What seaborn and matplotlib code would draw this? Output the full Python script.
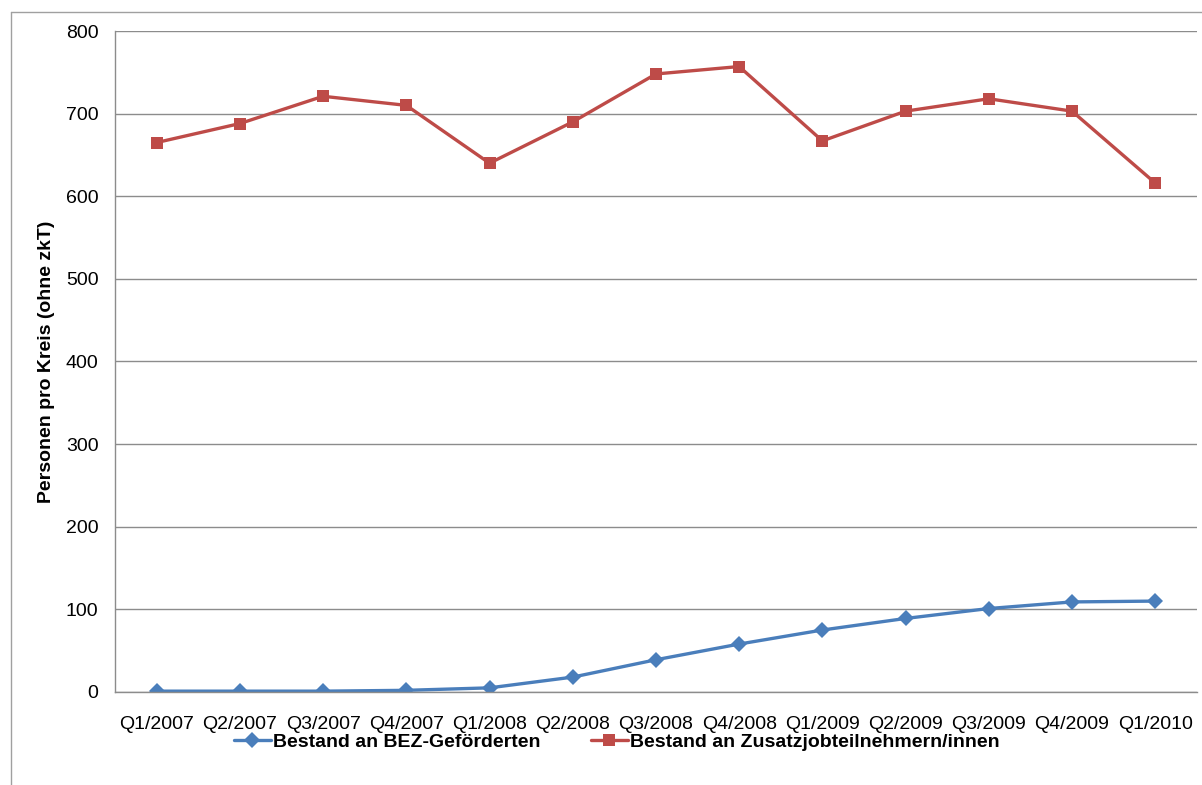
import matplotlib
matplotlib.use("Agg")
import matplotlib.pyplot as plt
import pandas as pd
import seaborn as sns
import numpy as np
from matplotlib.lines import Line2D

# data
quarters = ['Q1/2007', 'Q2/2007', 'Q3/2007', 'Q4/2007', 'Q1/2008', 'Q2/2008', 'Q3/2008',
            'Q4/2008', 'Q1/2009', 'Q2/2009', 'Q3/2009', 'Q4/2009', 'Q1/2010']
bez = [1, 1, 1, 2, 5, 18, 39, 58, 75, 89, 101, 109, 110]
zusatzjob = [665, 688, 721, 710, 640, 690, 748, 757, 667, 703, 718, 703, 616]
series_names = ['Bestand an BEZ-Geförderten', 'Bestand an Zusatzjobteilnehmern/innen']
y_ticks = [0, 100, 200, 300, 400, 500, 600, 700, 800]

df = pd.DataFrame({
    'pos': list(range(len(quarters))) * 2,
    'value': bez + zusatzjob,
    'series': [series_names[0]] * len(quarters) + [series_names[1]] * len(quarters),
})

sns.set_style('white')
plt.rcParams['font.family'] = ['Liberation Sans', 'DejaVu Sans']
plt.rcParams['text.color'] = 'black'

fig = plt.figure(figsize=(12.02, 7.85), dpi=100)
ax = fig.add_axes([0.0957, 0.1185, 0.9000, 0.842])

palette = {series_names[0]: '#4A7EBB', series_names[1]: '#BE4B48'}
markers = {series_names[0]: 'D', series_names[1]: 's'}
sns.lineplot(data=df, x='pos', y='value', hue='series', style='series',
             palette=palette, markers=markers, dashes=False, linewidth=2.4,
             markersize=8, markeredgewidth=0, ax=ax, legend=False)

ax.set_xlim(-0.5, len(quarters) - 0.5)
ax.set_ylim(0, 800)
ax.set_yticks(y_ticks)
ax.set_xticks(range(len(quarters)))
ax.set_xticklabels(quarters)
ax.set_xticks(np.arange(-0.5, len(quarters), 1.0), minor=True)
ax.tick_params(axis='x', which='major', length=0, pad=17, labelsize=14, labelcolor='black')
ax.tick_params(axis='x', which='minor', length=6, color='#8C8C8C', width=1, direction='out')
ax.tick_params(axis='y', length=6, color='#8C8C8C', width=1, direction='out', pad=6,
               labelsize=14, labelcolor='black')
ax.grid(axis='y', color='#8C8C8C', linewidth=1)
ax.set_axisbelow(True)
for side in ['top', 'right']:
    ax.spines[side].set_visible(False)
for side in ['left', 'bottom']:
    ax.spines[side].set_color('#8C8C8C')
    ax.spines[side].set_linewidth(1)
    ax.spines[side].set_visible(True)

ax.set_xlabel('')
ax.set_ylabel('Personen pro Kreis (ohne zkT)', fontsize=14, fontweight='bold',
              labelpad=7.5, color='black')

handles = [Line2D([], [], color=palette[n], marker=markers[n], markersize=8,
                  markeredgewidth=0, linewidth=2.4) for n in series_names]
fig.legend(handles, series_names, loc='center', bbox_to_anchor=(0.513, 0.055), ncol=2,
           frameon=False, prop={'weight': 'bold', 'size': 14}, handlelength=1.9,
           handletextpad=0.1, columnspacing=2.6, labelcolor='black')

# outer chart frame (left and top edges visible)
fig.add_artist(Line2D([0.0092, 0.0092], [0.0, 0.9847], color='#A0A0A0', linewidth=1))
fig.add_artist(Line2D([0.0092, 1.0], [0.9847, 0.9847], color='#A0A0A0', linewidth=1))

fig.savefig('out.png', dpi=100)
